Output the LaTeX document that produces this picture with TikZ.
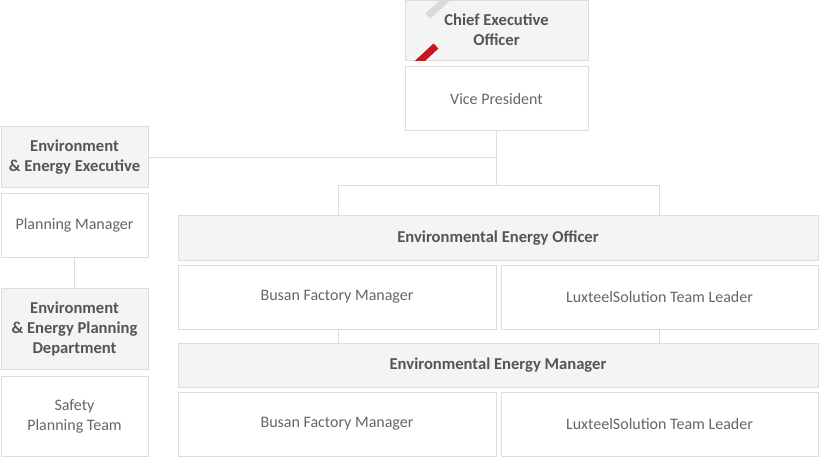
\documentclass[tikz,border=0pt]{standalone}
\usepackage{fontspec}
\setmainfont{Carlito}
\definecolor{lineg}{HTML}{DDDDDD}
\definecolor{fillg}{HTML}{F4F4F4}
\definecolor{txtb}{HTML}{555555}
\definecolor{txtr}{HTML}{666666}
\definecolor{ribred}{HTML}{C8161E}
\definecolor{ribgray}{HTML}{DADADA}
\begin{document}
\begin{tikzpicture}[x=1pt,y=-1pt,
  box/.style={draw=lineg,line width=1pt,rectangle,inner sep=0pt,align=center,
    font=\fontsize{16}{20}\selectfont,text=txtr},
  headbox/.style={box,fill=fillg,font=\fontsize{16.6}{20}\selectfont\bfseries,text=txtb},
  conn/.style={draw=lineg,line width=1pt}]
\useasboundingbox (0,0) rectangle (819,457);
\fill[white] (0,0) rectangle (819,457);
% CEO
\node[headbox,minimum width=183pt,minimum height=60pt] (ceo) at (496.5,31) {};
\begin{scope}
\clip (405,1) rectangle (588,61);
\draw[ribgray,line width=7pt] (428,16) -- (454,-8);
\draw[ribred,line width=7pt] (408,72) -- (436,46);
\end{scope}
\node[headbox,draw=none,fill=none] at ([yshift=1pt]ceo.center) {Chief Executive\\Officer};
\node[box,minimum width=183pt,minimum height=64pt] (vp) at (496.5,99) {Vice President};
% left column
\node[headbox,minimum width=147pt,minimum height=61pt] (eee) at (74.5,157.5) {Environment\\\& Energy Executive};
\node[box,minimum width=147pt,minimum height=63pt] (pm) at (74.5,225.5) {Planning Manager};
\node[headbox,minimum width=147pt,minimum height=81pt] (eepd) at (74.5,328.5) {Environment\\\& Energy Planning\\Department};
\node[box,minimum width=147pt,minimum height=80pt] (spt) at (74.5,416) {Safety\\Planning Team};
% right block
\node[headbox,minimum width=640pt,minimum height=44pt] (eeo) at (498,238) {Environmental Energy Officer};
\node[box,minimum width=318pt,minimum height=64pt] (bfm1) at (337,297) {Busan Factory Manager};
\node[box,minimum width=317pt,minimum height=64pt] (ltl1) at (659.5,297) {LuxteelSolution Team Leader};
\node[headbox,minimum width=640pt,minimum height=44pt] (eem) at (498,365) {Environmental Energy Manager};
\node[box,minimum width=318pt,minimum height=64pt] (bfm2) at (337,424) {Busan Factory Manager};
\node[box,minimum width=317pt,minimum height=64pt] (ltl2) at (659.5,424) {LuxteelSolution Team Leader};
% connectors
\coordinate (jt) at (496.5,186);
\coordinate (jl) at (338,186);
\coordinate (jr) at (659,186);
\draw[conn] (vp.south) -- (jt);
\draw[conn] (eee.east |- 0,158) -- (496.5,158);
\draw[conn] (jl |- eeo.north) -- (jl) -- (jr) -- (jr |- eeo.north);
\draw[conn] (pm.south) -- (eepd.north);
\draw[conn] (338,329) coordinate (b1) -- (b1 |- eem.north);
\draw[conn] (659,329) coordinate (b2) -- (b2 |- eem.north);
\end{tikzpicture}
\end{document}
